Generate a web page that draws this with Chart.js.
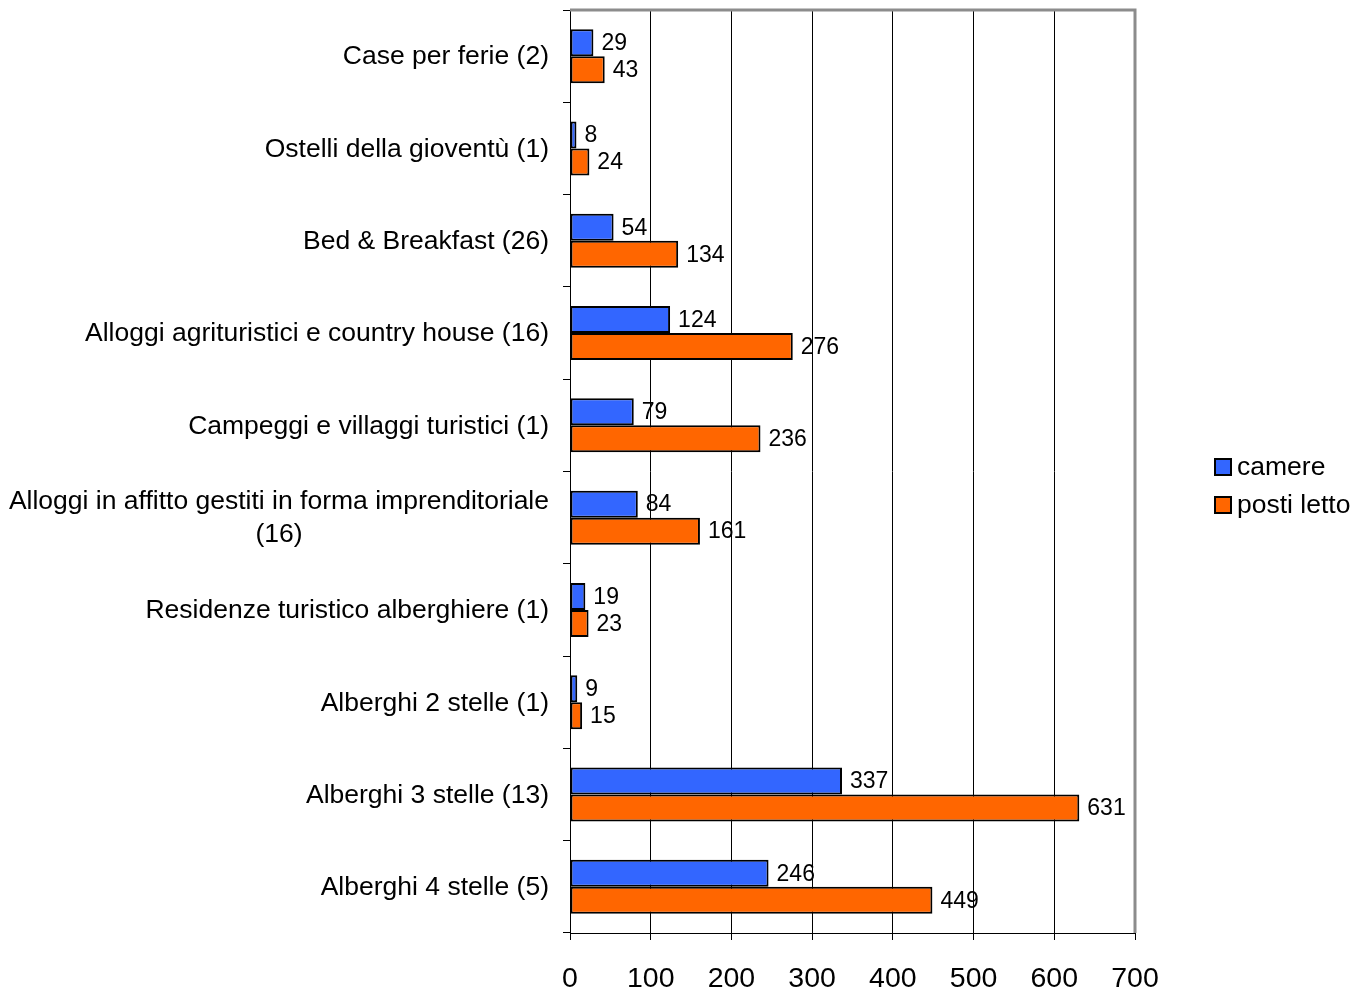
<!DOCTYPE html>
<html>
<head>
<meta charset="utf-8">
<script src="https://cdn.jsdelivr.net/npm/chart.js@4"></script>
<style>
  html, body { margin: 0; padding: 0; background: #fff; }
  #wrap { width: 1368px; height: 994px; }
</style>
</head>
<body>
<div id="wrap"><canvas id="stage"></canvas></div>
<script>
const categories = [
    'Case per ferie (2)',
    'Ostelli della gioventù (1)',
    'Bed & Breakfast (26)',
    'Alloggi agrituristici e country house (16)',
    'Campeggi e villaggi turistici (1)',
    ['Alloggi in affitto gestiti in forma imprenditoriale', '(16)'],
    'Residenze turistico alberghiere (1)',
    'Alberghi 2 stelle (1)',
    'Alberghi 3 stelle (13)',
    'Alberghi 4 stelle (5)'
];
const camere = [29, 8, 54, 124, 79, 84, 19, 9, 337, 246];
const postiLetto = [43, 24, 134, 276, 236, 161, 23, 15, 631, 449];
const xTicks = [0, 100, 200, 300, 400, 500, 600, 700];

const FONT = '"Liberation Sans", Arial, sans-serif';

// etichette dei valori a destra delle barre
const valueLabels = {
    id: 'valueLabels',
    afterDatasetsDraw(chart) {
        const ctx = chart.ctx;
        ctx.save();
        ctx.font = '23px ' + FONT;
        ctx.fillStyle = '#000';
        ctx.textAlign = 'left';
        ctx.textBaseline = 'middle';
        chart.data.datasets.forEach((ds, i) => {
            chart.getDatasetMeta(i).data.forEach((bar, j) => {
                ctx.fillText(ds.data[j], bar.x + 8, bar.y + 1);
            });
        });
        ctx.restore();
    }
};

// bordo grigio, etichette delle categorie e legenda
const frame = {
    id: 'frame',
    afterDraw(chart) {
        const ctx = chart.ctx;
        const a = chart.chartArea;
        ctx.save();
        ctx.strokeStyle = '#8c8c8c';
        ctx.lineWidth = 3;
        ctx.beginPath();
        ctx.moveTo(a.left, a.top);
        ctx.lineTo(a.right, a.top);
        ctx.lineTo(a.right, a.bottom);
        ctx.stroke();

        const y = chart.scales.y;
        ctx.font = '26.5px ' + FONT;
        ctx.fillStyle = '#000';
        ctx.textBaseline = 'middle';
        const right = a.left - 21;
        categories.forEach((lab, i) => {
            const py = y.getPixelForTick(i);
            if (Array.isArray(lab)) {
                const w = Math.max(...lab.map(t => ctx.measureText(t).width));
                ctx.textAlign = 'center';
                const lh = 33;
                lab.forEach((t, k) => {
                    ctx.fillText(t, right - w / 2, py + 1 + (k - (lab.length - 1) / 2) * lh);
                });
            } else {
                ctx.textAlign = 'right';
                ctx.fillText(lab, right, py + 1);
            }
        });

        // legenda
        ctx.textAlign = 'left';
        const lx = a.right + 80;
        const ly = [467, 505];
        chart.data.datasets.forEach((ds, i) => {
            ctx.fillStyle = ds.backgroundColor;
            ctx.fillRect(lx, ly[i] - 8, 16, 16);
            ctx.strokeStyle = '#000';
            ctx.lineWidth = 2;
            ctx.strokeRect(lx, ly[i] - 8, 16, 16);
            ctx.fillStyle = '#000';
            ctx.fillText(ds.label, lx + 22, ly[i] + 1);
        });
        ctx.restore();
    }
};

new Chart(document.getElementById('stage'), {
    type: 'bar',
    data: {
        labels: categories,
        datasets: [{
            label: 'camere',
            data: camere,
            backgroundColor: '#3366ff',
            borderColor: '#000',
            borderWidth: 2,
            borderSkipped: false
        }, {
            label: 'posti letto',
            data: postiLetto,
            backgroundColor: '#ff6600',
            borderColor: '#000',
            borderWidth: 2,
            borderSkipped: false
        }]
    },
    options: {
        indexAxis: 'y',
        responsive: true,
        maintainAspectRatio: false,
        animation: false,
        layout: { padding: { top: 10, right: 233, bottom: 0, left: 0 } },
        datasets: { bar: { barPercentage: 1.0, categoryPercentage: 0.585 } },
        scales: {
            x: {
                min: 0,
                max: 700,
                afterBuildTicks(scale) { scale.ticks = xTicks.map(v => ({ value: v })); },
                afterFit(scale) { scale.height = 61; },
                grid: { color: '#000', lineWidth: 1, tickLength: 7, drawTicks: true },
                border: { color: '#000', width: 1 },
                ticks: { color: '#000', font: { family: FONT, size: 28.5 }, padding: 22, maxRotation: 0 }
            },
            y: {
                afterFit(scale) {
                    scale.width = 570;
                    scale.paddingTop = 0;
                    scale.paddingBottom = 0;
                },
                grid: { drawOnChartArea: false, color: '#000', tickLength: 7 },
                border: { color: '#000', width: 1 },
                ticks: {
                    color: 'rgba(0,0,0,0)',
                    font: { family: FONT, size: 12 },
                    padding: 13,
                    autoSkip: false
                }
            }
        },
        plugins: {
            legend: { display: false },
            tooltip: { enabled: false }
        }
    },
    plugins: [valueLabels, frame]
});
</script>
</body>
</html>
